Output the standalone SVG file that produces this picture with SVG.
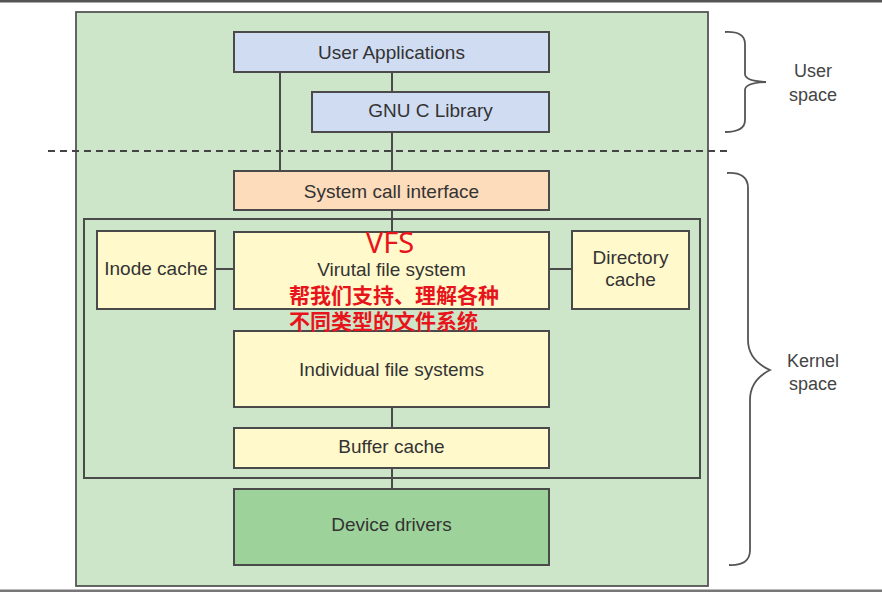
<svg xmlns="http://www.w3.org/2000/svg" width="882" height="592" viewBox="0 0 882 592">
<style>
.box{stroke:#4a4a4a;stroke-width:2}
.blue{fill:#d0dcf2}
.orange{fill:#fddcbb}
.yellow{fill:#fff9cb}
.dev{fill:#9dd39a}
.lbl{font-family:"Liberation Sans",Arial,sans-serif;font-size:19px;fill:#333;text-anchor:middle}
.side{font-family:"Liberation Sans",Arial,sans-serif;font-size:18px;fill:#444;text-anchor:middle}
.conn{stroke:#4a4a4a;stroke-width:2;fill:none}
.brace{stroke:#555;stroke-width:1.8;fill:none}
.red{fill:#e8141b;font-family:"Noto Sans","Liberation Sans","Noto Sans CJK SC",sans-serif}
</style>
<rect x="0" y="0" width="882" height="592" fill="#ffffff"/>
<rect x="0" y="0" width="882" height="2.5" fill="#555"/>
<rect x="0" y="589.5" width="882" height="2.5" fill="#777"/>
<g id="frame">
<rect x="76" y="12" width="632" height="574" fill="#cde5c8" stroke="#555" stroke-width="1.8"/>
<rect x="84" y="219" width="616" height="259" fill="none" stroke="#4a4a4a" stroke-width="2"/>
</g>
<g id="connectors">
<line class="conn" x1="280" y1="72" x2="280" y2="171"/>
<line class="conn" x1="392" y1="72" x2="392" y2="92"/>
<line class="conn" x1="392" y1="132" x2="392" y2="171"/>
<line class="conn" x1="392" y1="210" x2="392" y2="232"/>
<line class="conn" x1="215" y1="269" x2="234" y2="269"/>
<line class="conn" x1="549" y1="269" x2="572" y2="269"/>
<line class="conn" x1="392" y1="407" x2="392" y2="428"/>
<line class="conn" x1="392" y1="468" x2="392" y2="489"/>
<line x1="48" y1="151" x2="732" y2="151" stroke="#444" stroke-width="1.8" stroke-dasharray="7,5"/>
</g>
<g id="user-applications">
<rect class="box blue" x="234" y="32" width="315" height="40"/>
<text class="lbl" x="391.5" y="59">User Applications</text>
</g>
<g id="gnu-c-library">
<rect class="box blue" x="312" y="92" width="237" height="40"/>
<text class="lbl" x="430.5" y="117">GNU C Library</text>
</g>
<g id="system-call-interface">
<rect class="box orange" x="234" y="171" width="315" height="39"/>
<text class="lbl" x="391.5" y="198">System call interface</text>
</g>
<g id="inode-cache">
<rect class="box yellow" x="97" y="231" width="118" height="78"/>
<text class="lbl" x="156" y="275">Inode cache</text>
</g>
<g id="vfs">
<rect class="box yellow" x="234" y="232" width="315" height="77"/>
<text class="lbl" x="391.5" y="276">Virutal file system</text>
</g>
<g id="directory-cache">
<rect class="box yellow" x="572" y="231" width="117" height="78"/>
<text class="lbl" x="630.5" y="264">Directory</text>
<text class="lbl" x="630.5" y="286">cache</text>
</g>
<g id="individual-file-systems">
<rect class="box yellow" x="234" y="331" width="315" height="76"/>
<text class="lbl" x="391.5" y="376">Individual file systems</text>
</g>
<g id="buffer-cache">
<rect class="box yellow" x="234" y="428" width="315" height="40"/>
<text class="lbl" x="391.5" y="453">Buffer cache</text>
</g>
<g id="device-drivers">
<rect class="box dev" x="234" y="489" width="315" height="76"/>
<text class="lbl" x="391.5" y="531">Device drivers</text>
</g>
<g id="annotation">
<text class="red" x="390" y="253" font-size="29" text-anchor="middle">VFS</text>
<text class="red" x="289" y="303" font-size="21" font-weight="bold" font-family="'Noto Sans CJK SC',sans-serif">帮我们支持、理解各种</text>
<text class="red" x="289" y="329" font-size="21" font-weight="bold" font-family="'Noto Sans CJK SC',sans-serif">不同类型的文件系统</text>
</g>
<g id="user-space">
<path class="brace" d="M725,32 Q745,31 745,44 L745,74 Q745,81 766,82 Q745,83 745,90 L745,120 Q745,132 725,132"/>
<text class="side" x="813" y="77">User</text>
<text class="side" x="813" y="101">space</text>
</g>
<g id="kernel-space">
<path class="brace" d="M727,173 Q748,172 748,188 L748,340 Q748,360 770,370 Q750,380 750,400 L750,550 Q750,566 729,565"/>
<text class="side" x="813" y="367">Kernel</text>
<text class="side" x="813" y="390">space</text>
</g>
</svg>
